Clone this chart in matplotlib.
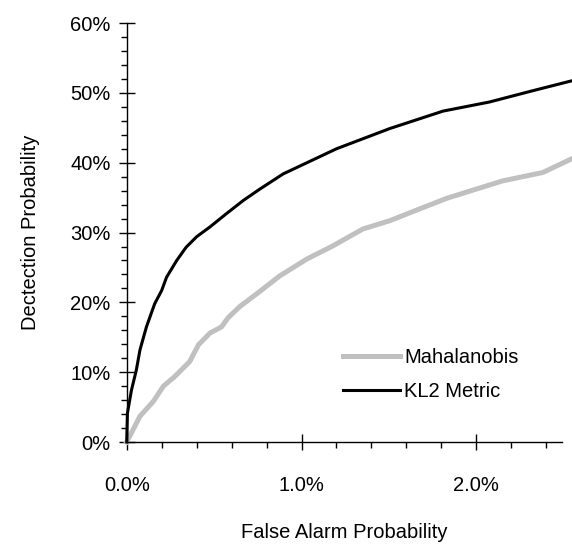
import matplotlib.pyplot as plt
from matplotlib.ticker import MultipleLocator, FuncFormatter

plt.rcParams['font.family'] = ['Liberation Sans', 'DejaVu Sans']

# Curvas (en %)
kl2_x = [0, 0.004, 0.027, 0.055, 0.076, 0.113, 0.16, 0.2, 0.228, 0.286, 0.34, 0.4,
         0.476, 0.57, 0.667, 0.76, 0.895, 1.2, 1.505, 1.81, 2.075, 2.32, 2.54]
kl2_y = [0, 4.1, 7.4, 10.3, 13.2, 16.5, 19.8, 21.7, 23.6, 26.0, 27.9, 29.4,
         30.8, 32.7, 34.6, 36.2, 38.4, 42.0, 44.9, 47.4, 48.7, 50.3, 51.7]

maha_x = [0, 0.027, 0.076, 0.152, 0.21, 0.276, 0.36, 0.41, 0.476, 0.543, 0.58, 0.647,
          0.758, 0.876, 1.03, 1.18, 1.35, 1.505, 1.657, 1.83, 2.15, 2.38, 2.54]
maha_y = [0, 1.3, 3.7, 5.8, 8.0, 9.4, 11.5, 13.9, 15.6, 16.5, 17.8, 19.4,
          21.5, 23.8, 26.2, 28.1, 30.5, 31.7, 33.2, 34.9, 37.4, 38.6, 40.5]

fig = plt.figure(figsize=(5.72, 5.44), dpi=100)
ax = fig.add_axes([0.2215, 0.1875, 0.761, 0.770])

ax.plot(maha_x, maha_y, color='#c0c0c0', lw=3.6, label='Mahalanobis', clip_on=False)
ax.plot(kl2_x, kl2_y, color='black', lw=2.2, label='KL2 Metric', clip_on=False)

ax.set_xlim(0, 2.49)
ax.set_ylim(0, 60)

ax.spines['top'].set_visible(False)
ax.spines['right'].set_visible(False)
ax.spines['left'].set_linewidth(1.0)
ax.spines['bottom'].set_linewidth(1.0)

ax.xaxis.set_major_locator(MultipleLocator(1.0))
ax.xaxis.set_minor_locator(MultipleLocator(0.2))
ax.yaxis.set_major_locator(MultipleLocator(10))
ax.yaxis.set_minor_locator(MultipleLocator(2))
ax.xaxis.set_major_formatter(FuncFormatter(lambda v, p: f"{v:.1f}%"))
ax.yaxis.set_major_formatter(FuncFormatter(lambda v, p: f"{v:.0f}%"))

ax.tick_params(axis='x', which='major', direction='inout', length=11, width=1.0,
               pad=19, labelsize=14.5)
ax.tick_params(axis='y', which='major', direction='inout', length=11, width=1.0,
               pad=6, labelsize=14.5)
ax.tick_params(which='minor', direction='out', length=4.3, width=1.0)

ax.set_xlabel('False Alarm Probability', fontsize=14.5, labelpad=20)
ax.set_ylabel('Dectection Probability', fontsize=14.5, labelpad=22)

ax.legend(loc='upper left', bbox_to_anchor=(333 / 572, 1 - 338 / 544),
          bbox_transform=fig.transFigure, frameon=False, fontsize=14.5,
          handlelength=2.85, handletextpad=0.2, borderpad=0, labelspacing=0.75)

fig.savefig('out.png', dpi=100)
